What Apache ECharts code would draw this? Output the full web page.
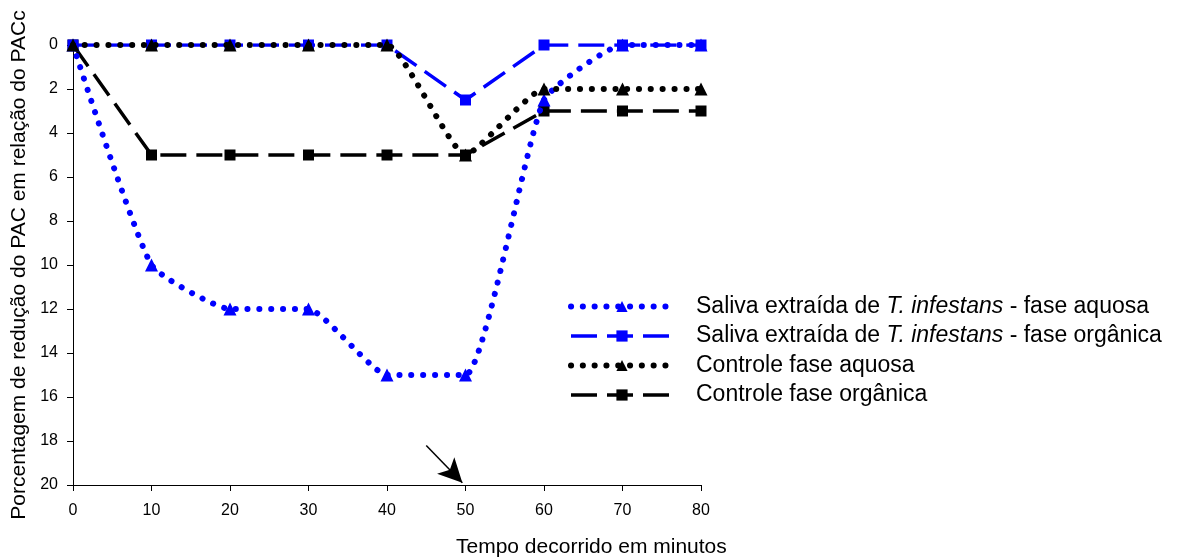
<!DOCTYPE html>
<html>
<head>
<meta charset="utf-8">
<script src="https://cdn.jsdelivr.net/npm/echarts@6/dist/echarts.min.js"></script>
<style>
html,body{margin:0;padding:0;background:#fff;}
#chart{width:1193px;height:559px;}
</style>
</head>
<body>
<div id="chart"></div>
<script>
var categories = [0, 10, 20, 30, 40, 50, 60, 70, 80];
var salivaAquosa = [0, 10, 12, 12, 15, 15, 2.5, 0, 0];
var salivaOrganica = [0, 0, 0, 0, 0, 2.5, 0, 0, 0];
var controleAquosa = [0, 0, 0, 0, 0, 5, 2, 2, 2];
var controleOrganica = [0, 5, 5, 5, 5, 5, 3, 3, 3];
var seriesNames = [
  'Saliva extraída de T. infestans - fase aquosa',
  'Saliva extraída de T. infestans - fase orgânica',
  'Controle fase aquosa',
  'Controle fase orgânica'
];
var legendRich = [
  '{a|Saliva extraída de }{i|T. infestans}{a| - fase aquosa}',
  '{a|Saliva extraída de }{i|T. infestans}{a| - fase orgânica}',
  '{a|Controle fase aquosa}',
  '{a|Controle fase orgânica}'
];
var arrowFrom = [45, 18.2];
var arrowTo = [49.6, 19.9];

function pairs(vals) {
  return categories.map(function (c, i) { return [c, vals[i]]; });
}

var FONT = 'Liberation Sans, Arial, sans-serif';
var BLUE = '#0000ff';
var dotted = { type: [0.1, 11.7], cap: 'round', width: 6 };
var dashed = { type: [26, 10], width: 3.5 };
var styles = [
  Object.assign({ color: BLUE }, dotted),
  Object.assign({ color: BLUE }, dashed),
  Object.assign({ color: '#000' }, dotted),
  Object.assign({ color: '#000' }, dashed)
];

var chart = echarts.init(document.getElementById('chart'));
chart.setOption({
  animation: false,
  backgroundColor: '#fff',
  grid: { left: 73, top: 45, width: 628, height: 440, containLabel: false },
  legend: {
    left: 563, top: 290, orient: 'vertical',
    itemWidth: 102, itemHeight: 14, itemGap: 6.5,
    data: seriesNames.map(function (n, i) {
      return { name: n, lineStyle: { width: styles[i].width, type: styles[i].type, cap: styles[i].cap || 'butt' } };
    }),
    formatter: function (name) { return legendRich[seriesNames.indexOf(name)]; },
    textStyle: {
      padding: [0, 0, 0, 18],
      rich: {
        a: { fontSize: 23, fontFamily: FONT, color: '#000' },
        i: { fontSize: 23, fontFamily: FONT, color: '#000', fontStyle: 'italic' }
      }
    }
  },
  xAxis: {
    type: 'value', min: 0, max: 80, interval: 10, position: 'bottom',
    axisLine: { onZero: false, lineStyle: { color: '#000', width: 1 } },
    axisTick: { show: true, length: 6, lineStyle: { color: '#000' } },
    axisLabel: { color: '#000', fontSize: 16, fontFamily: FONT, margin: 18 },
    splitLine: { show: false }
  },
  yAxis: {
    type: 'value', min: 0, max: 20, interval: 2, inverse: true,
    name: 'Porcentagem de redução do PAC em relação do PACc',
    nameLocation: 'middle', nameGap: 43, nameRotate: 90,
    nameTextStyle: { color: '#000', fontSize: 21, fontFamily: FONT },
    axisLine: { show: true, onZero: false, lineStyle: { color: '#000', width: 1 } },
    axisTick: { show: true, length: 6, lineStyle: { color: '#000' } },
    axisLabel: { color: '#000', fontSize: 16, fontFamily: FONT, margin: 15 },
    splitLine: { show: false }
  },
  graphic: [{
    type: 'text', left: 456, top: 537,
    style: { text: 'Tempo decorrido em minutos', fill: '#000', fontSize: 21, fontFamily: FONT }
  }],
  series: [
    {
      name: seriesNames[0], type: 'line', data: pairs(salivaAquosa), smooth: 0.15,
      symbol: 'triangle', symbolSize: 13,
      itemStyle: { color: BLUE }, lineStyle: styles[0], z: 3
    },
    {
      name: seriesNames[1], type: 'line', data: pairs(salivaOrganica),
      symbol: 'rect', symbolSize: 11,
      itemStyle: { color: BLUE }, lineStyle: styles[1], z: 2,
      markLine: {
        silent: true, animation: false,
        symbol: ['none', 'arrow'], symbolSize: [18, 24],
        label: { show: false },
        lineStyle: { color: '#000', width: 1.5, type: 'solid' },
        data: [[{ coord: arrowFrom }, { coord: arrowTo }]]
      }
    },
    {
      name: seriesNames[2], type: 'line', data: pairs(controleAquosa), smooth: 0.15,
      symbol: 'triangle', symbolSize: 13,
      itemStyle: { color: '#000' }, lineStyle: styles[2], z: 4
    },
    {
      name: seriesNames[3], type: 'line', data: pairs(controleOrganica),
      symbol: 'rect', symbolSize: 11,
      itemStyle: { color: '#000' }, lineStyle: styles[3], z: 1
    }
  ]
});
</script>
</body>
</html>
